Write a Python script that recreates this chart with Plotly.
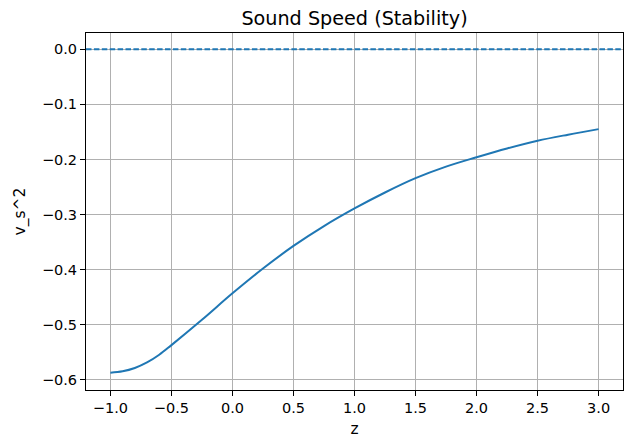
import plotly.graph_objects as go

z_values = [-1.0, -0.9, -0.8, -0.7, -0.6, -0.5, -0.25, 0.0, 0.25, 0.5, 0.75, 1.0, 1.25, 1.5, 1.75, 2.0, 2.25, 2.5, 2.75, 3.0]
vs2_values = [-0.587, -0.5845, -0.5785, -0.5685, -0.5545, -0.537, -0.491, -0.443, -0.398, -0.357, -0.321, -0.289,
              -0.260, -0.234, -0.213, -0.196, -0.180, -0.166, -0.155, -0.145]
reference_level = 0.0
x_ticks = [-1.0, -0.5, 0.0, 0.5, 1.0, 1.5, 2.0, 2.5, 3.0]
y_ticks = [0.0, -0.1, -0.2, -0.3, -0.4, -0.5, -0.6]

blue = "#1f77b4"
font = "DejaVu Sans"

fig = go.Figure()
fig.add_trace(go.Scatter(x=z_values, y=vs2_values, mode="lines",
                         line=dict(color=blue, width=2, shape="spline", smoothing=1.0),
                         showlegend=False))
fig.add_hline(y=reference_level, line=dict(color=blue, width=2, dash="5.5px,2.4px"))

axis_common = dict(showline=True, linecolor="black", linewidth=1, mirror=True,
                   ticks="outside", ticklen=5, tickwidth=1, tickcolor="black",
                   showgrid=True, gridcolor="#b0b0b0", gridwidth=1, zeroline=False,
                   automargin=False,
                   tickfont=dict(family=font, size=14.5, color="black"))

fig.update_layout(
    width=640, height=438,
    margin=dict(l=86, r=17, t=33, b=48),
    paper_bgcolor="white", plot_bgcolor="white",
    title=dict(text="Sound Speed (Stability)", x=0.5, xanchor="center",
               xref="paper", y=1 - 18 / 438, yanchor="middle",
               font=dict(family=font, size=19.2, color="black")),
    xaxis=dict(range=[-1.2, 3.2], tickvals=x_ticks,
               ticktext=[f"{v:.1f}".replace("-", "\u2212") for v in x_ticks],
               title=dict(text="z", font=dict(family=font, size=15.5, color="black"), standoff=10),
               **axis_common),
    yaxis=dict(range=[-0.6185, 0.0295], tickvals=y_ticks,
               ticktext=[f"{v:.1f}".replace("-", "\u2212") if v != 0 else "0.0" for v in y_ticks],
               title=dict(text="v_s^2", font=dict(family=font, size=15.5, color="black"), standoff=12),
               **axis_common),
)

fig.write_html("out.html")
